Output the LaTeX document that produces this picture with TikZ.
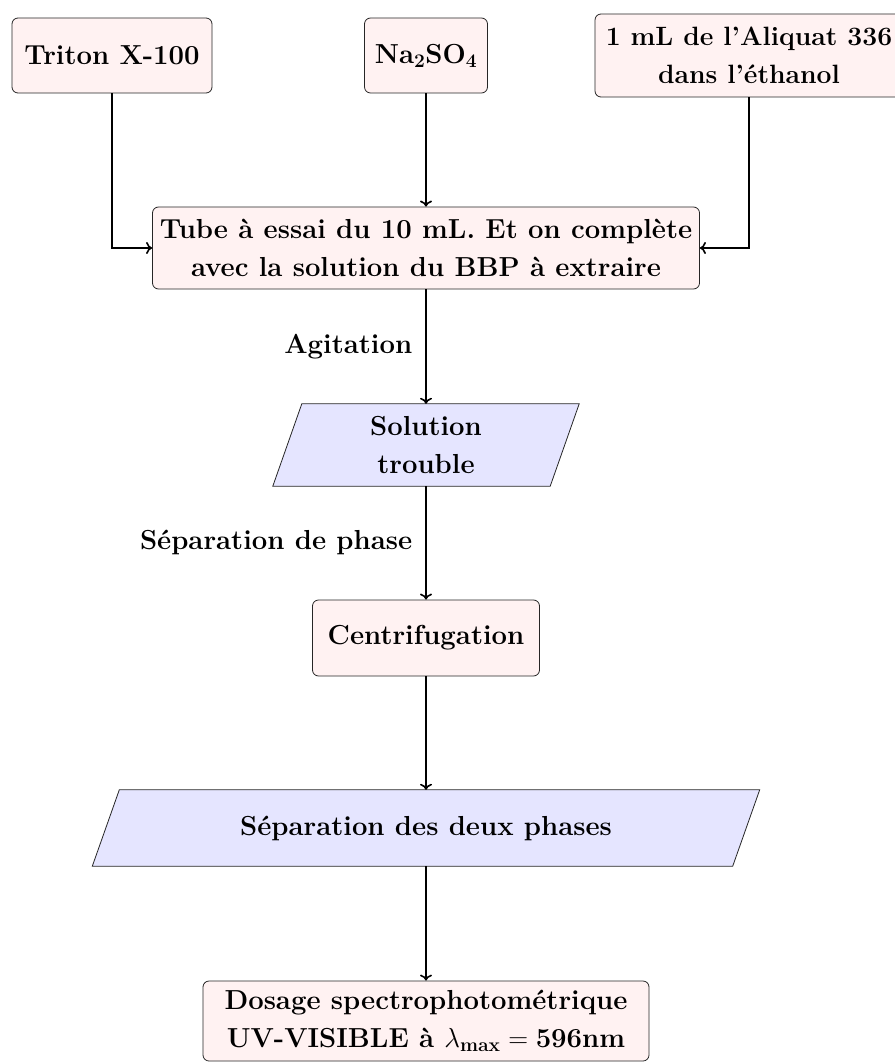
\RequirePackage{fix-cm}
\documentclass[tikz,border=0pt]{standalone}
\usetikzlibrary{backgrounds,arrows.meta}
\tikzset{
  boxstyle/.style={draw=black!85, line width=0.8pt, fill=red!5, rounded corners=6pt,
    inner sep=0pt, align=center, font=\fontsize{27.5}{38}\selectfont\bfseries},
  parastyle/.style={inner sep=0pt, align=center, font=\fontsize{27.5}{38}\selectfont\bfseries},
  parafill/.style={draw=black!85, line width=0.8pt, fill=blue!10},
  arr/.style={draw=black, line width=1.6pt, -{To[length=6pt,width=12pt]}},
  lbl/.style={inner sep=0pt, font=\fontsize{27.5}{38}\selectfont\bfseries}
}
\begin{document}
\begin{tikzpicture}[x=1pt,y=-1pt]
\useasboundingbox (0,0) rectangle (894,1064);
% top inputs
\node[boxstyle, minimum width=200pt, minimum height=75pt] (tri) at (112,55.5) {Triton X-100};
\node[boxstyle, minimum width=123pt, minimum height=75pt] (na) at (426,55.5) {Na$_{\mathbf{2}}$SO$_{\mathbf{4}}$};
\node[boxstyle, minimum width=308pt, minimum height=83pt, font=\fontsize{26.5}{38}\selectfont\bfseries] (ali) at (749,55.5) {1 mL de l'Aliquat 336\\dans l'\'ethanol};
% tube
\node[boxstyle, minimum width=547pt, minimum height=82pt] (tube) at (426,248) {Tube \`a essai du 10 mL. Et on compl\`ete\\avec la solution du BBP \`a extraire};
% solution trouble
\node[parastyle, minimum width=277pt, minimum height=82pt] (sol) at (426,445) {Solution\\trouble};
% centrifugation
\node[boxstyle, minimum width=227pt, minimum height=76pt] (cen) at (426,638) {Centrifugation};
% separation
\node[parastyle, minimum width=640pt, minimum height=76pt] (sep) at (426,828) {S\'eparation des deux phases};
% dosage
\node[boxstyle, minimum width=446pt, minimum height=80pt] (dos) at (426,1021) {Dosage spectrophotom\'etrique\\UV-VISIBLE \`a $\lambda_{\mathbf{max}}=\mbox{596nm}$};
\begin{scope}[on background layer]
\draw[parafill] ([xshift=14.5pt]sol.north west) -- ([xshift=14.5pt]sol.north east)
  -- ([xshift=-14.5pt]sol.south east) -- ([xshift=-14.5pt]sol.south west) -- cycle;
\draw[parafill] ([xshift=13.5pt]sep.north west) -- ([xshift=13.5pt]sep.north east)
  -- ([xshift=-13.5pt]sep.south east) -- ([xshift=-13.5pt]sep.south west) -- cycle;
\end{scope}
% connectors
\draw[arr] (tri.south) |- (tube.west);
\draw[arr] (na.south) -- (tube.north);
\draw[arr] (ali.south) |- (tube.east);
\draw[arr] (tube.south) -- node[lbl, midway, left=13pt] (agi) {Agitation} (sol.north);
\draw[arr] (sol.south) -- node[lbl, midway, left=13pt] (sph) {S\'eparation de phase} (cen.north);
\draw[arr] (cen.south) -- (sep.north);
\draw[arr] (sep.south) -- (dos.north);
\end{tikzpicture}
\end{document}
